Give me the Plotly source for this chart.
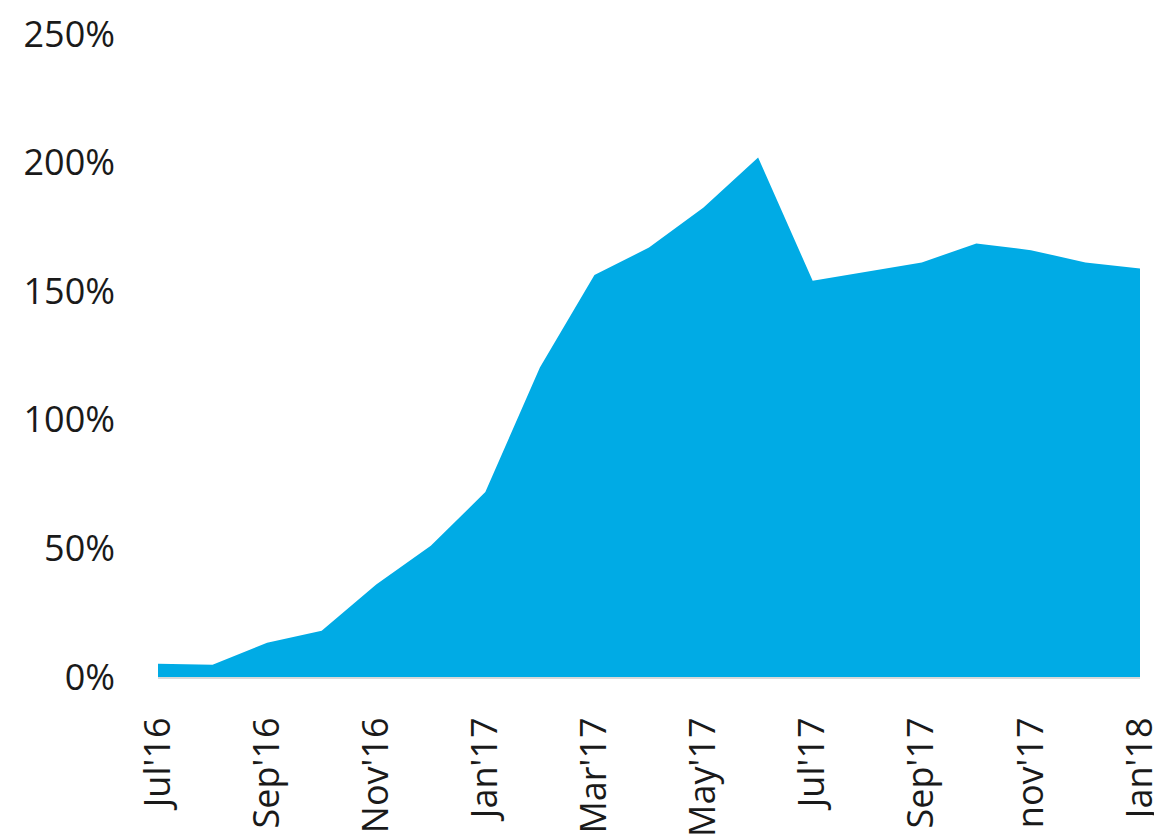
import plotly.graph_objects as go

months = ["Jul'16", "Aug'16", "Sep'16", "Oct'16", "Nov'16", "Dec'16", "Jan'17",
          "Feb'17", "Mar'17", "Apr'17", "May'17", "Jun'17", "Jul'17", "Aug'17",
          "Sep'17", "Oct'17", "nov'17", "Dec'17", "Jan'18"]
values = [5.2, 4.8, 13.3, 18.0, 36.0, 51.0, 71.9, 120.4, 156.3, 167.0, 182.6,
          202.0, 154.1, 157.7, 161.2, 168.6, 166.0, 161.2, 158.9]
tick_labels = ["Jul'16", "Sep'16", "Nov'16", "Jan'17", "Mar'17", "May'17",
               "Jul'17", "Sep'17", "nov'17", "Jan'18"]
y_ticks = [0, 50, 100, 150, 200, 250]

x_idx = list(range(len(months)))
tick_pos = [months.index(t) for t in tick_labels]

fig = go.Figure()
fig.add_trace(go.Scatter(
    x=x_idx, y=values, mode="lines", fill="tozeroy",
    line=dict(color="#00ABE5", width=0), fillcolor="#00ABE5",
    hoverinfo="skip", showlegend=False,
))

font = dict(family="Open Sans, Noto Sans, sans-serif", size=36, color="#1a1a1a")

fig.update_layout(
    width=1162, height=840,
    margin=dict(l=150, r=30, t=26, b=171),
    paper_bgcolor="white", plot_bgcolor="white",
    font=font,
    xaxis=dict(
        range=[0, 18], tickmode="array", tickvals=tick_pos, ticktext=tick_labels,
        tickangle=-90, showgrid=False, zeroline=False,
        showline=True, linecolor="#d9d9d9", linewidth=2,
        ticks="", ticklabelstandoff=24, tickfont=font, automargin=False,
        ticklabeloverflow="allow",
    ),
    yaxis=dict(
        range=[0, 250.05], tickmode="array", tickvals=y_ticks,
        ticktext=[f"{v}%" for v in y_ticks],
        showgrid=False, zeroline=False, showline=False, ticks="",
        ticklabelstandoff=42, tickfont=font, automargin=False,
        ticklabeloverflow="allow",
    ),
)

fig.write_html("out.html")
